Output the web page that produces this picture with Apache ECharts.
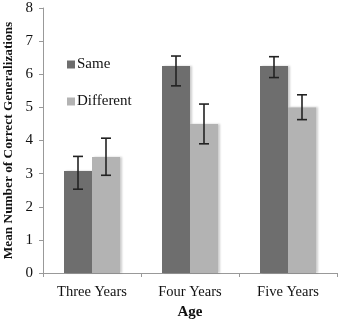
<!DOCTYPE html>
<html>
<head>
<meta charset="utf-8">
<script src="https://cdn.jsdelivr.net/npm/echarts@6/dist/echarts.min.js"></script>
<style>
  html, body { margin: 0; padding: 0; background: #fff; }
  #chart { width: 340px; height: 321px; }
</style>
</head>
<body>
<div id="chart"></div>
<script>
// data
const ages = ['Three Years', 'Four Years', 'Five Years'];
const sameMean = [3.08, 6.25, 6.25];
const sameLow = [2.53, 5.65, 5.9];
const sameHigh = [3.52, 6.55, 6.53];
const diffMean = [3.5, 4.5, 5.0];
const diffLow = [2.95, 3.9, 4.63];
const diffHigh = [4.07, 5.1, 5.38];

const serif = '"Liberation Serif", "DejaVu Serif", serif';
const barW = 28;

function errorSeries(low, high, offset) {
    return {
        type: 'custom',
        z: 10,
        data: ages.map((a, i) => [i, low[i], high[i]]),
        renderItem: function (params, api) {
            const lo = api.coord([api.value(0), api.value(1)]);
            const hi = api.coord([api.value(0), api.value(2)]);
            const x = lo[0] + offset;
            const cap = 5;
            const style = { stroke: '#222', lineWidth: 1.6 };
            return {
                type: 'group',
                children: [
                    { type: 'line', shape: { x1: x, y1: lo[1], x2: x, y2: hi[1] }, style: style },
                    { type: 'line', shape: { x1: x - cap, y1: lo[1], x2: x + cap, y2: lo[1] }, style: style },
                    { type: 'line', shape: { x1: x - cap, y1: hi[1], x2: x + cap, y2: hi[1] }, style: style }
                ]
            };
        }
    };
}

const chart = echarts.init(document.getElementById('chart'));
chart.setOption({
    animation: false,
    grid: { left: 43, right: 3, top: 8, bottom: 48, containLabel: false, outerBoundsMode: 'none' },
    legend: {
        orient: 'vertical',
        left: 62,
        top: 52,
        itemGap: 22,
        itemWidth: 8,
        itemHeight: 8,
        icon: 'rect',
        data: ['Same', 'Different'],
        textStyle: { fontFamily: serif, fontSize: 15, color: '#111', padding: [0, 0, 0, -3] }
    },
    xAxis: {
        type: 'category',
        data: ages,
        name: 'Age',
        nameLocation: 'middle',
        nameGap: 30,
        nameTextStyle: { fontFamily: serif, fontSize: 15, fontWeight: 'bold', color: '#111' },
        axisLine: { lineStyle: { color: '#999' } },
        axisTick: { show: true, length: 4, lineStyle: { color: '#999' } },
        axisLabel: { fontFamily: serif, fontSize: 14.5, color: '#111', margin: 12 }
    },
    yAxis: {
        type: 'value',
        min: 0,
        max: 8,
        interval: 1,
        name: 'Mean Number of Correct Generalizations',
        nameLocation: 'middle',
        nameGap: 24,
        nameTextStyle: { fontFamily: serif, fontSize: 13.3, fontWeight: 'bold', color: '#111' },
        axisLine: { show: true, lineStyle: { color: '#999' } },
        axisTick: { show: true, length: 4, lineStyle: { color: '#999' } },
        axisLabel: { fontFamily: serif, fontSize: 15, color: '#111', margin: 10 },
        splitLine: { show: false }
    },
    series: [
        {
            name: 'Same',
            type: 'bar',
            data: sameMean,
            barWidth: barW,
            barGap: '0%',
            itemStyle: { color: '#6e6e6e', shadowColor: 'rgba(0,0,0,0.2)', shadowBlur: 2, shadowOffsetX: 2 }
        },
        {
            name: 'Different',
            type: 'bar',
            data: diffMean,
            barWidth: barW,
            itemStyle: { color: '#b3b3b3', shadowColor: 'rgba(0,0,0,0.2)', shadowBlur: 2, shadowOffsetX: 2 }
        },
        errorSeries(sameLow, sameHigh, -barW / 2),
        errorSeries(diffLow, diffHigh, barW / 2)
    ]
});
</script>
</body>
</html>
